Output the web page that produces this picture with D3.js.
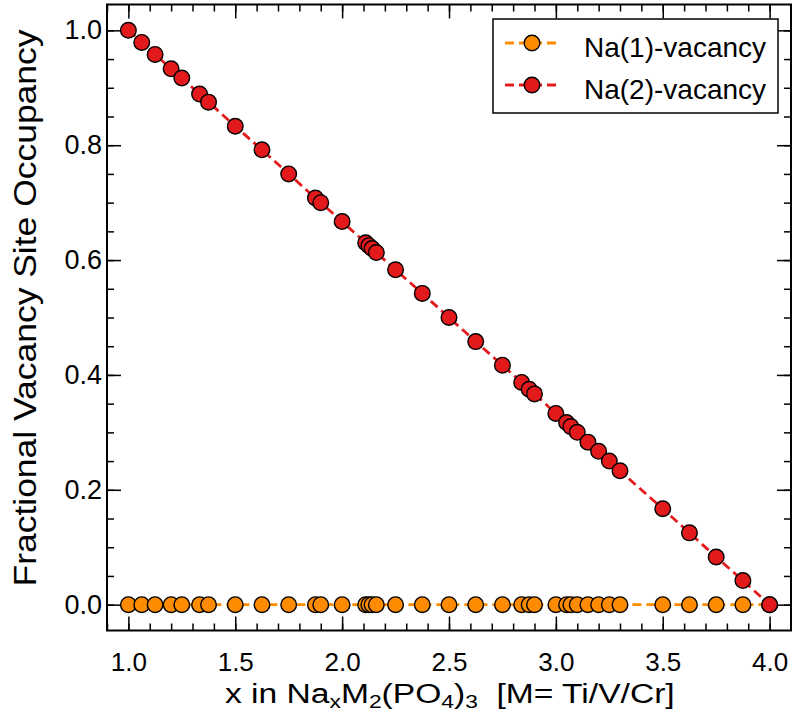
<!DOCTYPE html>
<html>
<head>
<meta charset="utf-8">
<script src="https://cdn.jsdelivr.net/npm/d3@7"></script>
<style>
    body {margin:0; background:white;}
    text {font-family:"Liberation Sans", Arial, sans-serif; fill:black;}
</style>
</head>
<body>
<svg id="graph1"></svg>
<script>

// x values (Na content)
var xValues = [1.0,1.0625,1.125,1.2,1.25,1.333,1.375,1.5,1.625,1.75,1.875,1.9,2.0,
    2.11,2.125,2.14,2.16,2.25,2.375,2.5,2.625,2.75,2.84,2.875,2.9,3.0,3.05,3.07,3.1,
    3.15,3.2,3.25,3.3,3.5,3.625,3.75,3.875,4.0]

var na1Values = [0,0,0,0,0,0,0,0,0,0,0,0,0,
    0,0,0,0,0,0,0,0,0,0,0,0,0,0,0,0,
    0,0,0,0,0,0,0,0,0]

var na2Values = [1.0,0.979,0.958,0.933,0.917,0.889,0.875,0.833,0.792,0.75,0.708,0.7,0.667,
    0.63,0.625,0.62,0.613,0.583,0.542,0.5,0.458,0.417,0.387,0.375,0.367,0.333,0.317,0.31,0.3,
    0.283,0.267,0.25,0.233,0.167,0.125,0.083,0.042,0.0]

var seriesNames = ["Na(1)-vacancy","Na(2)-vacancy"]
var seriesColors = ["#ff8c00","#e31a1c"]

var xTicks = [1.0,1.5,2.0,2.5,3.0,3.5,4.0]
var yTicks = [0.0,0.2,0.4,0.6,0.8,1.0]


var screen = {width:792, height:721}
var frame = {left:107, right:791, top:4.5, bottom:630.5}

var svg = d3.select("#graph1")
    .attr("width", screen.width)
    .attr("height", screen.height)

var xScale = d3.scaleLinear()
    .domain([0.9,4.1])
    .range([frame.left, frame.right])

var yScale = d3.scaleLinear()
    .domain([-0.045,1.045])
    .range([frame.bottom, frame.top])

var drawAxes = function()
{
    var w = frame.right-frame.left
    var h = frame.bottom-frame.top

    var bottom = d3.axisBottom(xScale).tickValues(xTicks).tickSize(-14).tickPadding(22)
        .tickFormat(d3.format(".1f"))
    var bottomMinor = d3.axisBottom(xScale).ticks(32).tickSize(-7).tickFormat("")
    var top = d3.axisTop(xScale).tickValues(xTicks).tickSize(-14).tickFormat("")
    var topMinor = d3.axisTop(xScale).ticks(32).tickSize(-7).tickFormat("")

    var left = d3.axisLeft(yScale).tickValues(yTicks).tickSize(-14).tickPadding(5)
        .tickFormat(d3.format(".1f"))
    var leftMinor = d3.axisLeft(yScale).tickValues(d3.range(0,1.001,0.05)).tickSize(-7).tickFormat("")
    var right = d3.axisRight(yScale).tickValues(yTicks).tickSize(-14).tickFormat("")
    var rightMinor = d3.axisRight(yScale).tickValues(d3.range(0,1.001,0.05)).tickSize(-7).tickFormat("")

    var axes = svg.append("g").classed("axes", true)

    axes.append("g").attr("transform","translate(0,"+frame.bottom+")").call(bottomMinor)
    axes.append("g").attr("transform","translate(0,"+frame.bottom+")").call(bottom)
        .selectAll("text").style("font-size","26px")
    axes.append("g").attr("transform","translate(0,"+frame.top+")").call(topMinor)
    axes.append("g").attr("transform","translate(0,"+frame.top+")").call(top)

    axes.append("g").attr("transform","translate("+frame.left+",0)").call(leftMinor)
    axes.append("g").attr("transform","translate("+frame.left+",0)").call(left)
        .selectAll("text").style("font-size","27px")
    axes.append("g").attr("transform","translate("+frame.right+",0)").call(rightMinor)
    axes.append("g").attr("transform","translate("+frame.right+",0)").call(right)

    axes.selectAll(".domain").remove()
    axes.selectAll("line").attr("stroke","black").attr("stroke-width",1.5)

    axes.append("rect")
        .attr("x", frame.left)
        .attr("y", frame.top)
        .attr("width", w)
        .attr("height", h)
        .attr("fill","none")
        .attr("stroke","black")
        .attr("stroke-width",2)
}

var drawSeries = function(values, color)
{
    var points = xValues.map(function(x,i) { return {x:x, y:values[i]} })

    var line = d3.line()
        .x(function(d) { return xScale(d.x) })
        .y(function(d) { return yScale(d.y) })

    var g = svg.append("g")

    g.append("path")
        .datum(points)
        .attr("d", line)
        .attr("fill","none")
        .attr("stroke", color)
        .attr("stroke-width",2.8)
        .attr("stroke-dasharray","9,5")

    g.selectAll("circle")
        .data(points)
        .enter()
        .append("circle")
        .attr("cx", function(d) { return xScale(d.x) })
        .attr("cy", function(d) { return yScale(d.y) })
        .attr("r", 7.8)
        .attr("fill", color)
        .attr("stroke","black")
        .attr("stroke-width",1.4)
}

var drawLabels = function()
{
    var labels = svg.append("g").classed("labels", true)

    // label is drawn a bit wider than the font, like the original
    var xl = labels.append("text")
        .attr("transform","translate(225,703) scale(1.2,1)")
        .style("font-size","28px")
    xl.append("tspan").text("x in Na")
    xl.append("tspan").text("x").attr("dy",5).style("font-size","19px")
    xl.append("tspan").text("M").attr("dy",-5)
    xl.append("tspan").text("2").attr("dy",5).style("font-size","19px")
    xl.append("tspan").text("(PO").attr("dy",-5)
    xl.append("tspan").text("4").attr("dy",5).style("font-size","19px")
    xl.append("tspan").text(")").attr("dy",-5)
    xl.append("tspan").text("3").attr("dy",5).style("font-size","19px")
    xl.append("tspan").text("\u00a0 [M= Ti/V/Cr]").attr("dy",-5)

    labels.append("g")
        .attr("transform","translate(36,308)")
        .append("text")
        .text("Fractional Vacancy Site Occupancy")
        .attr("text-anchor","middle")
        .attr("transform","rotate(-90)")
        .attr("textLength",557)
        .attr("lengthAdjust","spacingAndGlyphs")
        .style("font-size","32px")
}

var drawLegend = function()
{
    var legend = svg.append("g").classed("legend", true)

    legend.append("rect")
        .attr("x",493)
        .attr("y",19)
        .attr("width",285)
        .attr("height",94)
        .attr("fill","white")
        .attr("stroke","black")
        .attr("stroke-width",1.5)

    var rows = legend.selectAll("g.row")
        .data(seriesNames)
        .enter()
        .append("g")
        .attr("class","row")
        .attr("transform", function(d,i) { return "translate(0,"+(43+i*42)+")" })

    rows.append("line")
        .attr("x1",505).attr("x2",561)
        .attr("y1",0).attr("y2",0)
        .attr("stroke", function(d,i) { return seriesColors[i] })
        .attr("stroke-width",2.8)
        .attr("stroke-dasharray","9,5")

    rows.append("circle")
        .attr("cx",532).attr("cy",0).attr("r",7.8)
        .attr("fill", function(d,i) { return seriesColors[i] })
        .attr("stroke","black")
        .attr("stroke-width",1.4)

    rows.append("text")
        .attr("x",584)
        .attr("y",14)
        .text(function(d) { return d })
        .style("font-size","28px")
}

drawSeries(na1Values, seriesColors[0])
drawSeries(na2Values, seriesColors[1])
drawAxes()
drawLabels()
drawLegend()

</script>
</body>
</html>
